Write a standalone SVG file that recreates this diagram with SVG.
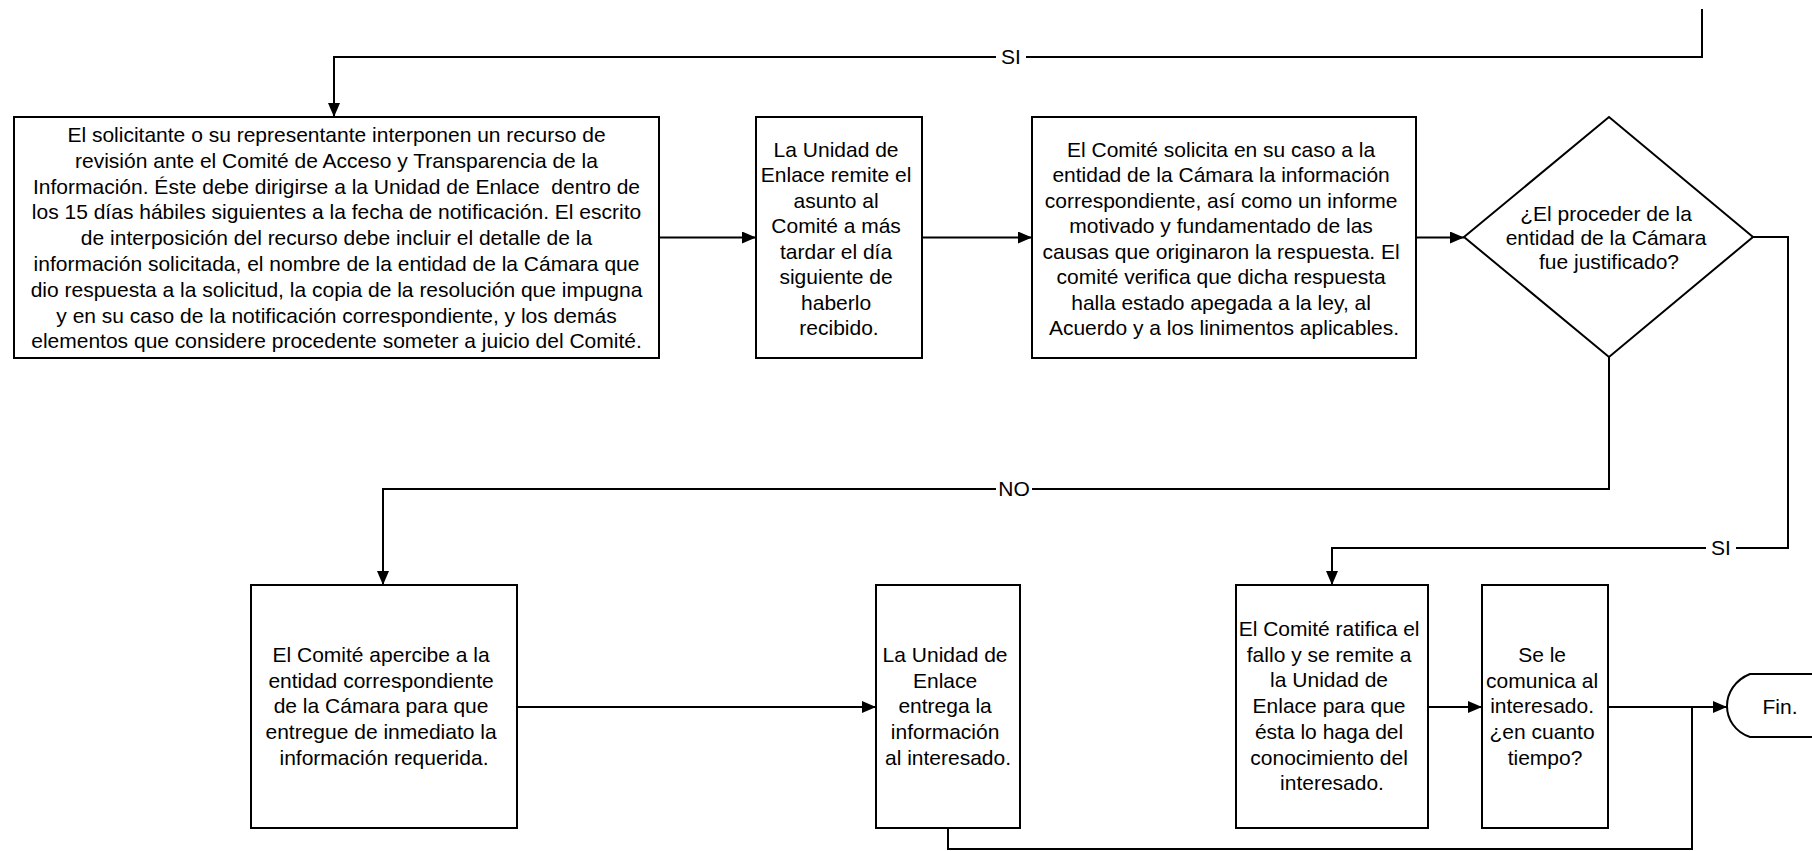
<svg xmlns="http://www.w3.org/2000/svg" width="1812" height="851" viewBox="0 0 1812 851">
<style>
  .box { fill: #ffffff; stroke: #000000; stroke-width: 2; }
  .t { font-family: "Liberation Sans", Arial, sans-serif; font-size: 21px; fill: #000000; text-anchor: middle; }
  .c { fill: none; stroke: #000000; stroke-width: 2; }
  .lblbg { fill: #ffffff; stroke: none; }
</style>
<defs>
  <marker id="arr" markerUnits="userSpaceOnUse" markerWidth="14" markerHeight="12" refX="14" refY="6" orient="auto">
    <path d="M0,0 L14,6 L0,12 Z" fill="#000000"/>
  </marker>
</defs>
<rect x="0" y="0" width="1812" height="851" fill="#ffffff"/>

<g id="connectors">
  <path class="c" d="M1702,9 V57 H334 V117" marker-end="url(#arr)"/>
  <rect class="lblbg" x="996" y="46" width="30" height="22"/>
  <text class="t" x="1011" y="64">SI</text>

  <path class="c" d="M659,237.5 H756" marker-end="url(#arr)"/>
  <path class="c" d="M922,237.5 H1032" marker-end="url(#arr)"/>
  <path class="c" d="M1416,237.5 H1464" marker-end="url(#arr)"/>

  <path class="c" d="M1609,357 V489 H383 V585" marker-end="url(#arr)"/>
  <rect class="lblbg" x="996" y="478" width="36" height="22"/>
  <text class="t" x="1014" y="496">NO</text>

  <path class="c" d="M1753,237 H1788 V548 H1332 V585" marker-end="url(#arr)"/>
  <rect class="lblbg" x="1706" y="537" width="30" height="22"/>
  <text class="t" x="1721" y="555">SI</text>

  <path class="c" d="M517,707 H876" marker-end="url(#arr)"/>
  <path class="c" d="M1428,707 H1482" marker-end="url(#arr)"/>
  <path class="c" d="M1608,707 H1727" marker-end="url(#arr)"/>
  <path class="c" d="M948,828 V849 H1692 V707"/>
</g>

<g id="n1">
  <rect class="box" x="14" y="117" width="645" height="241"/>
  <text class="t"><tspan x="336.5" y="142">El solicitante o su representante interponen un recurso de</tspan><tspan x="336.5" y="167.8">revisión ante el Comité de Acceso y Transparencia de la</tspan><tspan x="336.5" y="193.6">Información. Éste debe dirigirse a la Unidad de Enlace&#160; dentro de</tspan><tspan x="336.5" y="219.4">los 15 días hábiles siguientes a la fecha de notificación. El escrito</tspan><tspan x="336.5" y="245.2">de interposición del recurso debe incluir el detalle de la</tspan><tspan x="336.5" y="271">información solicitada, el nombre de la entidad de la Cámara que</tspan><tspan x="336.5" y="296.8">dio respuesta a la solicitud, la copia de la resolución que impugna</tspan><tspan x="336.5" y="322.6">y en su caso de la notificación correspondiente, y los demás</tspan><tspan x="336.5" y="348.4">elementos que considere procedente someter a juicio del Comité.</tspan></text>
</g>

<g id="n2">
  <rect class="box" x="756" y="117" width="166" height="241"/>
  <text class="t">
    <tspan x="839" y="156.5">La Unidad de</tspan>
    <tspan x="839" y="182">Enlace remite el</tspan>
    <tspan x="839" y="207.5">asunto al</tspan>
    <tspan x="839" y="233">Comité a más</tspan>
    <tspan x="839" y="258.5">tardar el día</tspan>
    <tspan x="839" y="284">siguiente de</tspan>
    <tspan x="839" y="309.5">haberlo</tspan>
    <tspan x="839" y="335">recibido.</tspan>
  </text>
</g>

<g id="n3">
  <rect class="box" x="1032" y="117" width="384" height="241"/>
  <text class="t">
    <tspan x="1224" y="156.5">El Comité solicita en su caso a la</tspan>
    <tspan x="1224" y="182">entidad de la Cámara la información</tspan>
    <tspan x="1224" y="207.5">correspondiente, así como un informe</tspan>
    <tspan x="1224" y="233">motivado y fundamentado de las</tspan>
    <tspan x="1224" y="258.5">causas que originaron la respuesta. El</tspan>
    <tspan x="1224" y="284">comité verifica que dicha respuesta</tspan>
    <tspan x="1224" y="309.5">halla estado apegada a la ley, al</tspan>
    <tspan x="1224" y="335">Acuerdo y a los linimentos aplicables.</tspan>
  </text>
</g>

<g id="n4">
  <polygon class="box" points="1464,237 1609,117 1753,237 1609,357"/>
  <text class="t">
    <tspan x="1609" y="220.5">¿El proceder de la</tspan>
    <tspan x="1609" y="244.8">entidad de la Cámara</tspan>
    <tspan x="1609" y="269.1">fue justificado?</tspan>
  </text>
</g>

<g id="n5">
  <rect class="box" x="251" y="585" width="266" height="243"/>
  <text class="t">
    <tspan x="384" y="662">El Comité apercibe a la</tspan>
    <tspan x="384" y="687.7">entidad correspondiente</tspan>
    <tspan x="384" y="713.4">de la Cámara para que</tspan>
    <tspan x="384" y="739.1">entregue de inmediato la</tspan>
    <tspan x="384" y="764.8">información requerida.</tspan>
  </text>
</g>

<g id="n6">
  <rect class="box" x="876" y="585" width="144" height="243"/>
  <text class="t">
    <tspan x="948" y="662">La Unidad de</tspan>
    <tspan x="948" y="687.7">Enlace</tspan>
    <tspan x="948" y="713.4">entrega la</tspan>
    <tspan x="948" y="739.1">información</tspan>
    <tspan x="948" y="764.8">al interesado.</tspan>
  </text>
</g>

<g id="n7">
  <rect class="box" x="1236" y="585" width="192" height="243"/>
  <text class="t">
    <tspan x="1332" y="636">El Comité ratifica el</tspan>
    <tspan x="1332" y="661.7">fallo y se remite a</tspan>
    <tspan x="1332" y="687.4">la Unidad de</tspan>
    <tspan x="1332" y="713.1">Enlace para que</tspan>
    <tspan x="1332" y="738.8">ésta lo haga del</tspan>
    <tspan x="1332" y="764.5">conocimiento del</tspan>
    <tspan x="1332" y="790.2">interesado.</tspan>
  </text>
</g>

<g id="n8">
  <rect class="box" x="1482" y="585" width="126" height="243"/>
  <text class="t">
    <tspan x="1545" y="662">Se le</tspan>
    <tspan x="1545" y="687.7">comunica al</tspan>
    <tspan x="1545" y="713.4">interesado.</tspan>
    <tspan x="1545" y="739.1">¿en cuanto</tspan>
    <tspan x="1545" y="764.8">tiempo?</tspan>
  </text>
</g>

<g id="n9">
  <path class="box" d="M1750,674 L1830,674 C1845,680 1852,693 1852,706 C1852,719 1845,732 1830,737 H1750 C1735,732 1727,719 1727,706 C1727,693 1735,680 1750,674 Z"/>
  <text class="t" x="1780" y="714">Fin.</text>
</g>
</svg>
